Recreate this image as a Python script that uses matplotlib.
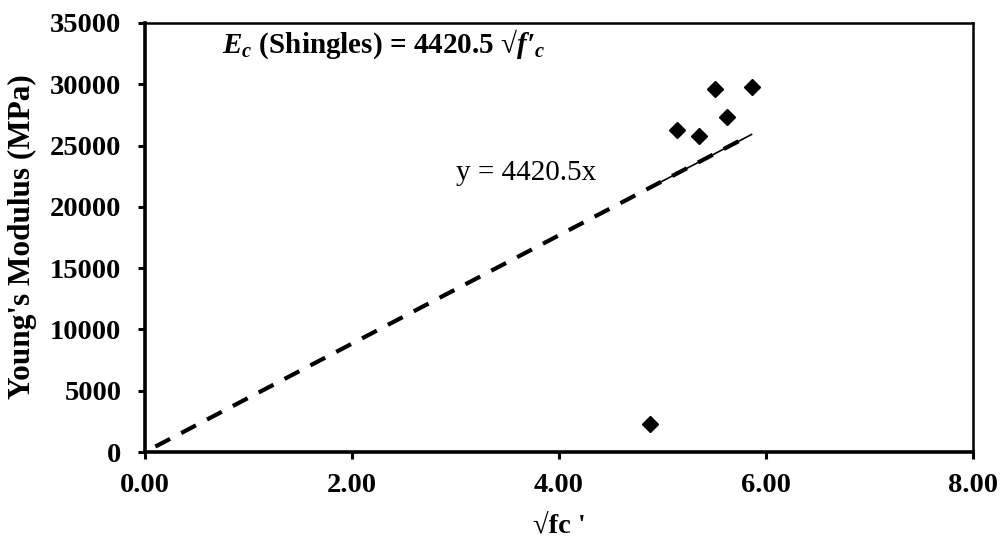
import matplotlib
matplotlib.use("Agg")
import matplotlib.pyplot as plt
import numpy as np

# ---------------- DATA ----------------
sqrt_fc = [4.88, 5.14, 5.35, 5.51, 5.62, 5.86]
youngs_mod = [2300, 26250, 25800, 29600, 27300, 29750]
slope = 4420.5
fit_dash_x = [0.1, 5.80]
trend_x = [4.88, 5.86]
x_ticks = [0, 2, 4, 6, 8]
y_ticks = [0, 5000, 10000, 15000, 20000, 25000, 30000, 35000]

# ---------------- STYLE ----------------
plt.rcParams['font.family'] = ['Liberation Serif', 'DejaVu Serif']
plt.rcParams['font.weight'] = 'bold'
plt.rcParams['mathtext.fontset'] = 'custom'
plt.rcParams['mathtext.rm'] = 'Liberation Serif:bold'
plt.rcParams['mathtext.it'] = 'Liberation Serif:italic:bold'
plt.rcParams['mathtext.bf'] = 'Liberation Serif:bold'
plt.rcParams['mathtext.bfit'] = 'Liberation Serif:italic:bold'

W, H = 1006, 545
fig = plt.figure(figsize=(W / 100, H / 100), dpi=100)
ax = fig.add_axes([145 / W, 1 - 452 / H, (973 - 145) / W, (452 - 23) / H])

# dashed fit line + thin trendline over the data range
xd = np.array(fit_dash_x)
ax.plot(xd, slope * xd, color='black', lw=3, ls=(0, (4, 3)), zorder=2)
xt = np.array(trend_x)
ax.plot(xt, slope * xt, color='black', lw=1.2, zorder=3)

ax.plot(sqrt_fc, youngs_mod, ls='none', marker='D', ms=8.5, color='black', zorder=4)

ax.set_xlim(0, 8)
ax.set_ylim(0, 35000)
ax.set_xticks(x_ticks)
ax.set_xticklabels([f"{v:.2f}" for v in x_ticks])
ax.set_yticks(y_ticks)
ax.set_yticklabels([str(v) for v in y_ticks])
ax.tick_params(axis='both', labelsize=20.5, width=2.2, length=5, direction='out')
ax.tick_params(axis='x', pad=10)
ax.tick_params(axis='y', pad=12)

for side in ['left', 'bottom']:
    ax.spines[side].set_linewidth(2.6)
for side in ['top', 'right']:
    ax.spines[side].set_linewidth(1.8)

ax.text(3.0, 22760, "y = 4420.5x", fontsize=21,
        fontweight='normal', ha='left', va='center')
ax.text((222 - 145) / 103.5, 33250,
        r"$\mathbfit{E}_{\mathbfit{c}}$ (Shingles) = 4420.5 √$\mathbfit{f′}_{\mathbfit{c}}$",
        fontsize=21, fontweight='bold', ha='left', va='center')

fig.text(22 / W, 1 - 237 / H, "Young's Modulus (MPa)", rotation=90,
         ha='center', va='center', fontsize=22.5, fontweight='bold')
fig.text(559 / W, 1 - 526 / H, "√fc '", ha='center', va='center',
         fontsize=20.5, fontweight='bold')

fig.savefig("out.png", dpi=100)
